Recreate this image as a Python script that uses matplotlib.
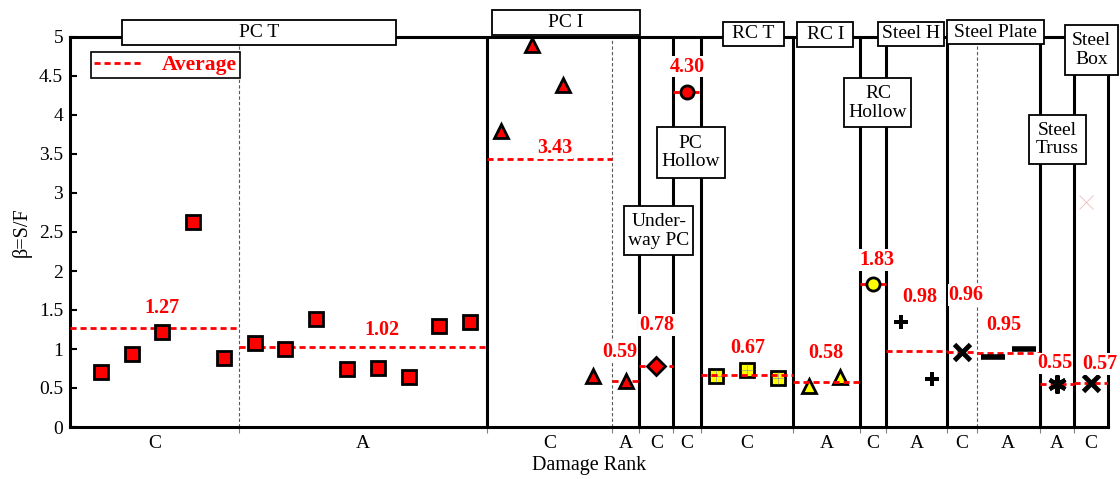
import numpy as np
import matplotlib.pyplot as plt
from matplotlib.patches import Rectangle

plt.rcParams['font.family'] = ['Liberation Serif', 'DejaVu Serif']

# beta = S/F per bridge type, split by damage rank
pct_c = [0.70, 0.93, 1.22, 2.63, 0.88]
pct_a = [1.08, 1.00, 1.39, 0.74, 0.76, 0.64, 1.29, 1.34]
pci_c = [3.80, 4.90, 4.39, 0.65]
pci_a = [0.59]
underway_pc_c = [0.78]
pc_hollow_c = [4.30]
rct_c = [0.65, 0.73, 0.63]
rci_a = [0.52, 0.64]
rc_hollow_c = [1.83]
steel_h_a = [1.35, 0.61]
steel_plate_c = [0.96]
steel_plate_a = [0.90, 1.00]
steel_truss_a = [0.55]
steel_box_c = [0.57]
steel_box_faint = [2.88]

series = [pct_c, pct_a, pci_c, pci_a, underway_pc_c, pc_hollow_c, rct_c, rci_a,
          rc_hollow_c, steel_h_a, steel_plate_c, steel_plate_a, steel_truss_a, steel_box_c]
ranks = ['C', 'A', 'C', 'A', 'C', 'C', 'C', 'A', 'C', 'A', 'C', 'A', 'A', 'C']
averages = [1.27, 1.02, 3.43, 0.59, 0.78, 4.30, 0.67, 0.58, 1.83, 0.98, 0.96, 0.95, 0.55, 0.57]

group_names = ['PC T', 'PC I', 'RC T', 'RC I', 'Steel H', 'Steel Plate', 'Steel\nBox',
               'RC\nHollow', 'Steel\nTruss', 'PC\nHollow', 'Under-\nway PC']

# ---- layout ----
edges = [-1, 4.5, 12.55, 16.6, 17.5, 18.6, 19.5, 22.5, 24.65, 25.5, 27.5, 28.45, 30.5, 31.6, 32.72]
rank_splits = [4.5, 16.6, 28.45]
# x0, x1, y0, y1 of each type box (data units)
name_boxes = [(0.70, 9.58, 4.897, 5.218), (12.70, 17.52, 5.03, 5.346),
              (20.20, 22.20, 4.888, 5.196), (22.63, 24.45, 4.876, 5.196),
              (25.24, 27.40, 4.885, 5.192), (27.49, 30.65, 4.910, 5.218),
              (31.33, 33.05, 4.513, 5.154), (24.16, 26.33, 3.842, 4.470),
              (30.15, 32.00, 3.372, 4.000), (18.06, 20.27, 3.189, 3.849),
              (17.01, 19.24, 2.200, 2.837)]
avg_label_xy = [(2.0, 1.522), (9.13, 1.244), (14.76, 3.573), (16.87, 0.965), (18.05, 1.308),
                (19.05, 4.619), (21.03, 1.009), (23.55, 0.953), (25.21, 2.141), (26.59, 1.671),
                (28.1, 1.692), (29.35, 1.308), (30.98, 0.817), (32.46, 0.808)]

red = dict(mfc='red', mec='black', mew=2, zorder=4)
yel = dict(mfc='yellow', mec='black', mew=2, zorder=2.5)
blk = dict(color='black', zorder=4)
styles = [dict(marker='s', ms=9.5, **red), dict(marker='s', ms=9.5, **red),
          dict(marker='^', ms=10.5, **red), dict(marker='^', ms=10.5, **red),
          dict(marker='D', ms=9.5, **red), dict(marker='o', ms=9.5, **red),
          dict(marker='s', ms=9.5, **yel), dict(marker='^', ms=10.5, **yel),
          dict(marker='o', ms=9.5, mfc='yellow', mec='black', mew=2, zorder=4),
          dict(marker='P', ms=10.5, mew=0, **blk),
          dict(marker='x', ms=11.5, mew=3.5, **blk), dict(marker='_', ms=17, mew=4, **blk),
          dict(marker=(6, 2, 0), ms=13, mew=3, **blk), dict(marker='x', ms=11.5, mew=3.5, **blk)]

fig = plt.figure(figsize=(11.2, 4.79), dpi=100)
ax = fig.add_axes([70 / 1120, 1 - 427 / 479, 1038 / 1120, 390 / 479])

k = 0
for i, vals in enumerate(series):
    if len(vals) == 1:
        xs = [(edges[i] + edges[i + 1]) / 2]
    else:
        xs = list(range(k, k + len(vals)))
    k += len(vals)
    ax.plot(xs, vals, linestyle='none', **styles[i])
    if i == 6:
        # fine grid inside the RC T squares
        ax.plot(xs, vals, linestyle='none', marker='+', ms=9, mew=0.5, color='0.6', zorder=2.6)
    lab = 'Average' if i == 0 else None
    ax.plot([edges[i], edges[i + 1]], [averages[i]] * 2, color='red', lw=2.0,
            dashes=(2.2, 1.4), zorder=3, label=lab)
    lx, ly = avg_label_xy[i]
    ax.text(lx, ly, '%.2f' % averages[i], color='red', fontsize=14.5, fontweight='bold',
            ha='center', va='center', zorder=8, clip_on=False,
            bbox=dict(facecolor='white', edgecolor='none', pad=0.5))

ax.plot([k - 1], steel_box_faint, linestyle='none', marker='x', ms=10, mew=0.6,
        color='#f3b9b9', zorder=2)

# type separators and rank splits
for e in edges[1:-1]:
    if e in rank_splits:
        ax.axvline(e, color='0.35', lw=0.8, dashes=(3, 2), zorder=1)
    else:
        ax.axvline(e, color='black', lw=2.2, zorder=2)

for (x0, x1, y0, y1), name in zip(name_boxes, group_names):
    ax.add_patch(Rectangle((x0, y0), x1 - x0, y1 - y0, facecolor='white', edgecolor='black',
                           lw=1.3, zorder=6, clip_on=False))
    ax.text((x0 + x1) / 2, (y0 + y1) / 2, name, ha='center', va='center', fontsize=14,
            linespacing=1.15, zorder=7, clip_on=False)

ax.set_xlim(edges[0], edges[-1])
ax.set_ylim(0, 5)
yt = np.arange(0, 5.01, 0.5)
ax.set_yticks(yt)
ax.set_yticklabels(['%g' % v for v in yt], fontsize=14)
centers = [(edges[i] + edges[i + 1]) / 2 for i in range(len(ranks))]
ax.set_xticks(centers)
ax.set_xticklabels(ranks, fontsize=14)
ax.set_xticks(edges[1:-1], minor=True)
ax.tick_params(axis='x', which='major', length=0, pad=6)
ax.tick_params(axis='x', which='minor', length=4, width=0.8, color='0.5', direction='out')
ax.tick_params(axis='y', direction='in', length=5, width=1.5, pad=5)
for s in ax.spines.values():
    s.set_linewidth(2.2)

ax.set_xlabel('Damage Rank', fontsize=14.5)
ax.set_ylabel('β=S/F', fontsize=14.5)
ax.xaxis.set_label_coords(0.5, -0.075)
ax.yaxis.set_label_coords(-0.037, 0.5)

leg = ax.legend(loc='upper left', bbox_to_anchor=(0.02, 0.962), borderaxespad=0,
                prop=dict(weight='bold', size=15.5), labelcolor='red', fancybox=False,
                edgecolor='black', framealpha=1, handlelength=2.3, handletextpad=0.85,
                borderpad=0.15)
leg.get_frame().set_linewidth(1.2)
leg.set_zorder(9)

fig.savefig('out.png', dpi=100)
